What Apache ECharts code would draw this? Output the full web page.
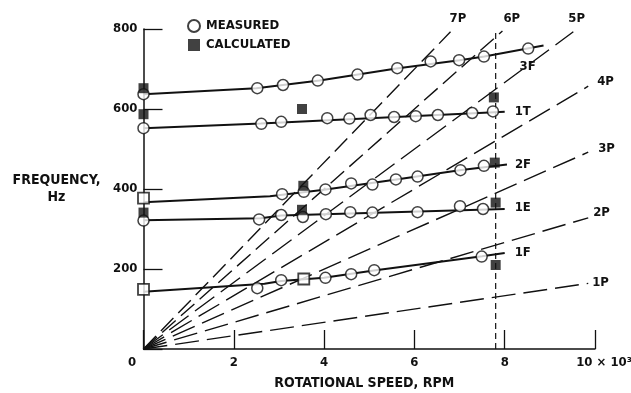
<!DOCTYPE html>
<html>
<head>
<meta charset="utf-8">
<script src="https://cdn.jsdelivr.net/npm/echarts@6/dist/echarts.min.js"></script>
<style>
html, body { margin: 0; padding: 0; background: #fff; }
#chart { width: 631px; height: 393px; }
</style>
</head>
<body>
<div id="chart"></div>
<script>
// rotational speed in 1000 rpm, frequency in Hz
var xTicks = [0, 2, 4, 6, 8, 10];
var yTicks = [0, 200, 400, 600, 800];

// measured points (open circles)
var meas3F = [[0, 637], [2.52, 652], [3.09, 660], [3.86, 671], [4.74, 686], [5.62, 702], [6.36, 719], [6.99, 722], [7.54, 731], [8.52, 751]];
var meas1T = [[0, 552], [2.61, 563], [3.05, 568], [4.07, 577], [4.56, 576], [5.03, 585], [5.55, 580], [6.03, 582], [6.52, 585], [7.28, 590], [7.74, 594]];
var meas2F = [[3.07, 387], [3.55, 393], [4.03, 399], [4.6, 414], [5.07, 411], [5.59, 424], [6.07, 431], [7.02, 447], [7.54, 458]];
var meas1E = [[0, 321], [2.56, 324], [3.05, 335], [3.53, 330], [4.04, 337], [4.58, 342], [5.07, 341], [6.07, 342], [7.01, 357], [7.52, 350]];
var meas1F = [[2.52, 152], [3.05, 172], [4.03, 178], [4.6, 187], [5.11, 197], [7.49, 231]];

// calculated points (filled squares)
var calc = [[0, 652], [0, 587], [3.51, 600], [7.76, 629], [3.54, 408], [7.78, 466], [0, 341], [3.51, 348], [7.8, 366], [7.8, 210]];
// measured and calculated on top of each other
var both = [[0, 377], [0, 149], [3.55, 175]];

// faired mode curves
var modeNames = ['3F', '1T', '2F', '1E', '1F'];
var fit3F = [[0, 637], [2.5, 652], [3.9, 671], [5.6, 701], [7.0, 722], [7.55, 731], [8.86, 759]];
var fit1T = [[0, 552], [2.6, 564], [8.0, 593]];
var fit2F = [[0, 367], [2.8, 382], [4.0, 398], [5.6, 424], [7.0, 447], [8.05, 461]];
var fit1E = [[0, 322], [2.6, 327], [3.05, 334], [8.0, 350]];
var fit1F = [[0, 143], [2.68, 163], [3.05, 170], [4.0, 178], [5.1, 196], [7.5, 232], [8.0, 240]];

// per-rev excitation lines, drawn from the origin to these end points
var perRevNames = ['1P', '2P', '3P', '4P', '5P', '6P', '7P'];
var perRevEndRpm = [9.85, 9.85, 9.85, 9.85, 9.52, 7.95, 6.8];
var perRevEndHz = [164, 328, 492, 657, 793, 795, 793];

// operating speed
var opSpeed = [[7.8, 0], [7.8, 790]];

var FONT = '"Liberation Sans Narrow", "DejaVu Sans Condensed", "Arial Narrow", sans-serif';
var INK = '#111';

var modeOffsets = [[-24, 21], [10, 0], [8, 0], [10, -1], [10, 0]];
var perRevOffsets = [[4, -1], [5, -5], [10, -4], [9, -5], [-5, -13], [1, -12], [-1, -13]];

function txt(size) {
    return { color: INK, fontFamily: FONT, fontWeight: 'bold', fontSize: size };
}

var series = [];

[fit3F, fit1T, fit2F, fit1E, fit1F].forEach(function (d, i) {
    series.push({
        name: modeNames[i],
        type: 'line',
        data: d,
        symbol: 'none',
        z: 3,
        lineStyle: { color: INK, width: 2 },
        endLabel: Object.assign({
            show: true,
            formatter: modeNames[i],
            distance: 0,
            offset: modeOffsets[i]
        }, txt(13))
    });
});

perRevNames.forEach(function (n, i) {
    series.push({
        name: n,
        type: 'line',
        data: [[0, 0], [perRevEndRpm[i], perRevEndHz[i]]],
        symbol: 'none',
        z: 2,
        lineStyle: { color: INK, width: 1.4, type: i < 5 ? [24, 8] : [18, 7] },
        endLabel: Object.assign({
            show: true,
            formatter: n,
            distance: 0,
            offset: perRevOffsets[i]
        }, txt(13))
    });
});

series.push({
    name: 'op',
    type: 'line',
    data: opSpeed,
    symbol: 'none',
    z: 2,
    lineStyle: { color: INK, width: 1.2, type: [6, 4] }
});

series.push({
    name: 'MEASURED',
    type: 'scatter',
    data: [].concat(meas3F, meas1T, meas2F, meas1E, meas1F),
    symbol: 'circle',
    symbolSize: 11,
    z: 5,
    itemStyle: { color: '#fff', borderColor: INK, borderWidth: 1.5 }
});

series.push({
    name: 'BOTH',
    type: 'scatter',
    data: both,
    symbol: 'rect',
    symbolSize: 11,
    z: 6,
    itemStyle: { color: '#fff', borderColor: INK, borderWidth: 1.8 }
});

series.push({
    name: 'CALCULATED',
    type: 'scatter',
    data: calc,
    symbol: 'rect',
    symbolSize: 10,
    z: 7,
    itemStyle: { color: INK }
});

var chart = echarts.init(document.getElementById('chart'));

chart.setOption({
    animation: false,
    backgroundColor: '#fff',
    grid: { left: 143.5, right: 36, top: 29, bottom: 44, containLabel: false, outerBoundsMode: 'none' },
    legend: {
        data: ['MEASURED', 'CALCULATED'],
        orient: 'vertical',
        left: 182,
        top: 13,
        itemWidth: 12,
        itemHeight: 12,
        itemGap: 3,
        textStyle: Object.assign(txt(13), { lineHeight: 16, padding: [0, 0, 0, 1] })
    },
    xAxis: {
        type: 'value',
        min: xTicks[0],
        max: xTicks[xTicks.length - 1],
        interval: 2,
        name: 'ROTATIONAL SPEED, RPM',
        nameLocation: 'middle',
        nameGap: 27,
        nameTextStyle: Object.assign(txt(14), { padding: [0, 10, 0, 0] }),
        axisLine: { lineStyle: { color: INK, width: 1.5 } },
        axisTick: { inside: true, length: 19, lineStyle: { color: INK, width: 1.3 } },
        splitLine: { show: false },
        axisLabel: Object.assign({
            margin: 7,
            formatter: function (v) {
                if (v === 0) return '{z|0}';
                if (v === 10) return '{t|10 × 10³}';
                return String(v);
            },
            rich: {
                z: Object.assign({ padding: [0, 23, 0, 0] }, txt(13)),
                t: Object.assign({ padding: [0, 0, 0, 18] }, txt(13))
            }
        }, txt(13))
    },
    yAxis: {
        type: 'value',
        min: yTicks[0],
        max: yTicks[yTicks.length - 1],
        interval: 200,
        name: 'FREQUENCY,\nHz',
        nameLocation: 'middle',
        nameRotate: 0,
        nameGap: 87,
        nameTextStyle: Object.assign(txt(14), {
            lineHeight: 17,
            align: 'center',
            verticalAlign: 'middle',
            padding: [8, 0, 0, 0]
        }),
        axisLine: { show: true, lineStyle: { color: INK, width: 1.5 } },
        axisTick: { show: true, inside: true, length: 19, lineStyle: { color: INK, width: 1.3 } },
        splitLine: { show: false },
        axisLabel: Object.assign({
            margin: 6,
            formatter: function (v) { return v === 0 ? '' : String(v); }
        }, txt(13))
    },
    series: series
});
</script>
</body>
</html>
